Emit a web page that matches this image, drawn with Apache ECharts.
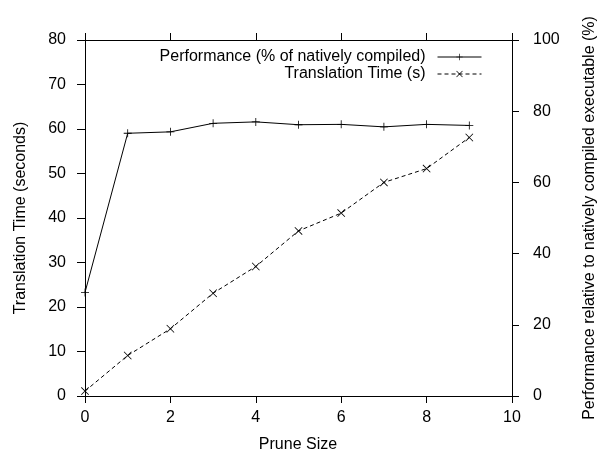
<!DOCTYPE html>
<html>
<head>
<meta charset="utf-8">
<script src="https://cdn.jsdelivr.net/npm/echarts@6/dist/echarts.min.js"></script>
<style>
  html, body { margin: 0; padding: 0; background: #fff; }
  #chart { width: 603px; height: 454px; }
</style>
</head>
<body>
<div id="chart"></div>
<script>
let chart = echarts.init(document.getElementById('chart'));

// data
let prune_size = [0, 1, 2, 3, 4, 5, 6, 7, 8, 9];
let performance = [29.1, 73.8, 74.2, 76.6, 77.0, 76.2, 76.3, 75.6, 76.3, 76.0];
let translation_time = [1.1, 9.1, 15.1, 23.1, 29.1, 37.1, 41.1, 48.0, 51.1, 58.1];

let perf_name = 'Performance (% of natively compiled)';
let time_name = 'Translation Time (s)';

let font = 'Liberation Sans, Arial, Helvetica, sans-serif';
let font_size = 16;

// gnuplot style markers
let plus_symbol = 'path://M0,4.5H10V5.5H0Z M4.5,0H5.5V10H4.5Z';
let cross_symbol = 'path://M0,0.7L0.7,0L10,9.3L9.3,10Z M9.3,0L10,0.7L0.7,10L0,9.3Z';

let axis_line = {show: true, onZero: false, lineStyle: {color: '#000', width: 1}};
let label_style = {color: '#000', fontSize: font_size, fontFamily: font};

function pairs(xs, ys) {
    return xs.map((x, i) => [x, ys[i]]);
}

function legend_item(name, top) {
    return {
        data: [name],
        orient: 'vertical',
        align: 'right',
        right: 116,
        top: top,
        itemWidth: 44,
        itemHeight: 8,
        selectedMode: false,
        lineStyle: {width: 1},
        textStyle: {color: '#000', fontSize: font_size, fontFamily: font, padding: [0, 7, 0, 0]}
    };
}

let option = {
    animation: false,
    backgroundColor: '#fff',
    grid: {left: 85, right: 91, top: 40, bottom: 58},
    legend: [legend_item(perf_name, 44), legend_item(time_name, 61)],
    xAxis: [
        {
            type: 'value', min: 0, max: 10, interval: 2,
            axisLine: axis_line,
            axisTick: {show: true, inside: false, length: 7, lineStyle: {color: '#000'}},
            axisLabel: Object.assign({margin: 14}, label_style),
            splitLine: {show: false}
        },
        {
            type: 'value', min: 0, max: 10, interval: 2, position: 'top',
            axisLine: axis_line,
            axisTick: {show: true, inside: false, length: 7, lineStyle: {color: '#000'}},
            axisLabel: {show: false},
            splitLine: {show: false}
        }
    ],
    yAxis: [
        {
            type: 'value', min: 0, max: 80, interval: 10, position: 'left',
            axisLine: axis_line,
            axisTick: {show: true, inside: false, length: 8, lineStyle: {color: '#000'}},
            axisLabel: Object.assign({margin: 19}, label_style),
            splitLine: {show: false}
        },
        {
            type: 'value', min: 0, max: 100, interval: 20, position: 'right',
            axisLine: axis_line,
            axisTick: {show: true, inside: false, length: 7, lineStyle: {color: '#000'}},
            axisLabel: Object.assign({margin: 21}, label_style),
            splitLine: {show: false}
        }
    ],
    series: [
        {
            name: perf_name,
            type: 'line',
            yAxisIndex: 1,
            data: pairs(prune_size, performance),
            symbol: plus_symbol,
            symbolSize: 8,
            showAllSymbol: true,
            clip: false,
            itemStyle: {color: '#000'},
            lineStyle: {color: '#000', width: 1}
        },
        {
            name: time_name,
            type: 'line',
            yAxisIndex: 0,
            data: pairs(prune_size, translation_time),
            symbol: cross_symbol,
            symbolSize: 8,
            showAllSymbol: true,
            clip: false,
            itemStyle: {color: '#000'},
            lineStyle: {color: '#000', width: 1, type: [4, 3]}
        }
    ],
    graphic: [
        {
            type: 'text', x: 21, y: 218, rotation: Math.PI / 2,
            style: {text: 'Translation Time (seconds)', fill: '#000', font: font_size + 'px ' + font,
                textAlign: 'center', textVerticalAlign: 'middle'}
        },
        {
            type: 'text', x: 590, y: 218, rotation: Math.PI / 2,
            style: {text: 'Performance relative to natively compiled executable (%)', fill: '#000',
                font: font_size + 'px ' + font, textAlign: 'center', textVerticalAlign: 'middle'}
        },
        {
            type: 'text', x: 298, y: 445,
            style: {text: 'Prune Size', fill: '#000', font: font_size + 'px ' + font,
                textAlign: 'center', textVerticalAlign: 'middle'}
        }
    ]
};

chart.setOption(option);
</script>
</body>
</html>
